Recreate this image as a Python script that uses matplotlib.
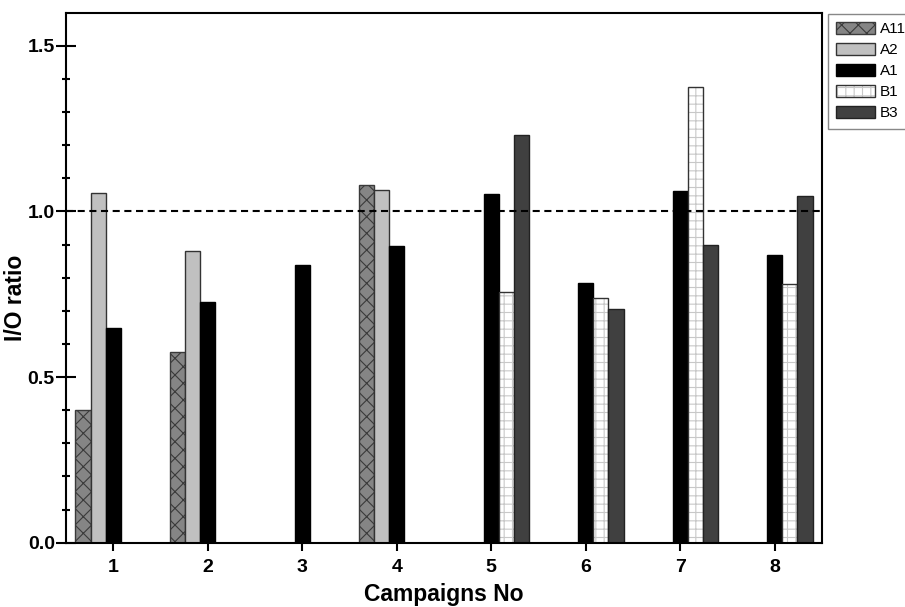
import numpy as np
import matplotlib
matplotlib.use("Agg")
import matplotlib.pyplot as plt
from matplotlib.legend_handler import HandlerTuple

plt.rcParams['font.family'] = ['Liberation Sans', 'DejaVu Sans']
plt.rcParams['font.weight'] = 'bold'
plt.rcParams['hatch.linewidth'] = 0.8

# dane (NaN = brak pomiaru)
campaigns = [1, 2, 3, 4, 5, 6, 7, 8]
a11 = [0.40, 0.575, np.nan, 1.08, np.nan, np.nan, np.nan, np.nan]
a2 = [1.056, 0.88, np.nan, 1.065, np.nan, np.nan, np.nan, np.nan]
a1 = [0.649, 0.728, 0.839, 0.896, 1.052, 0.784, 1.061, 0.870]
b1 = [np.nan, np.nan, np.nan, np.nan, 0.756, 0.739, 1.376, 0.781]
b3 = [np.nan, np.nan, np.nan, np.nan, 1.230, 0.705, 0.899, 1.047]

x = np.array(campaigns, dtype=float)
w = 0.16

fig = plt.figure(figsize=(9.05, 6.07), dpi=100)
ax = fig.add_axes([0.0729, 0.1059, 0.8354, 0.8732])

h_a11 = ax.bar(x - 2*w, a11, w, color='#858585', edgecolor='#3a3a3a', hatch='xx', linewidth=1)
h_a2 = ax.bar(x - w, a2, w, color='#c0c0c0', edgecolor='#333333', linewidth=1)
h_a1 = ax.bar(x, a1, w, color='black', edgecolor='black', linewidth=1)
# B1: jasna siatka + ciemna krawedz
h_b1 = ax.bar(x + w, b1, w, color='white', edgecolor='#c8c8c8', hatch='++', linewidth=0)
h_b1e = ax.bar(x + w, b1, w, fill=False, edgecolor='#333333', linewidth=1)
h_b3 = ax.bar(x + 2*w, b3, w, color='#404040', edgecolor='#222222', linewidth=1)

ax.axhline(1.0, color='black', lw=1.5, ls=(0, (3.4, 2.2)))

ax.set_xlim(0.5, 8.5)
ax.set_ylim(0, 1.6)
ax.set_xticks(campaigns)
ax.set_yticks([0.0, 0.5, 1.0, 1.5])
ax.set_yticks(np.arange(0.1, 1.6, 0.1), minor=True)
ax.set_yticklabels(['0.0', '0.5', '1.0', '1.5'])

for s in ax.spines.values():
    s.set_linewidth(1.5)
ax.tick_params(axis='y', which='major', direction='inout', length=14, width=1.5, labelsize=14, pad=1)
ax.tick_params(axis='y', which='minor', direction='inout', length=6, width=1.5)
ax.tick_params(axis='x', which='major', direction='out', length=6, width=1.5, labelsize=14, pad=6)

ax.set_xlabel('Campaigns No', fontsize=16.5, fontweight='bold', labelpad=5)
ax.set_ylabel('I/O ratio', fontsize=16.5, fontweight='bold')
ax.yaxis.set_label_coords(-0.052, 0.462)

leg = fig.legend([h_a11, h_a2, h_a1, (h_b1, h_b1e), h_b3], ['A11', 'A2', 'A1', 'B1', 'B3'],
                 handler_map={tuple: HandlerTuple(ndivide=1, pad=0)},
                 loc='upper left', bbox_to_anchor=(0.915, 0.977), borderaxespad=0,
                 handlelength=2.55, handleheight=0.78, labelspacing=0.45,
                 handletextpad=0.3, borderpad=0.55, fancybox=False, framealpha=1,
                 edgecolor='#888888', prop={'weight': 'normal', 'size': 11})
leg.get_frame().set_linewidth(1.0)

plt.savefig('out.png', dpi=100)
